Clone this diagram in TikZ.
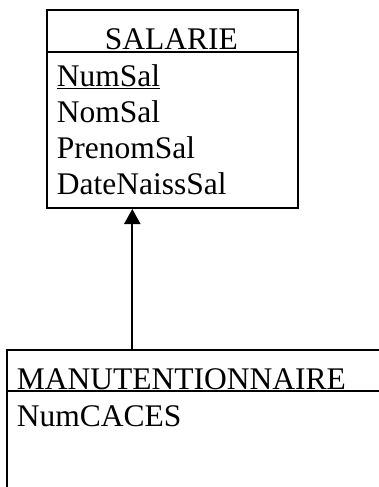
\documentclass[tikz,border=0pt]{standalone}
\usepackage{fontspec}
\setmainfont{Liberation Serif}
\usetikzlibrary{arrows.meta}
\begin{document}
\begin{tikzpicture}[x=1pt,y=-1pt,
  box/.style={draw, line width=2pt, inner sep=0pt, anchor=north west},
  sep/.style={line width=2pt},
  txt/.style={anchor=base west, inner sep=0pt, font=\fontsize{31.5}{36}\selectfont},
  ttl/.style={anchor=base, inner sep=0pt, font=\fontsize{31.5}{36}\selectfont},
  conn/.style={line width=2.2pt, -{Triangle[width=16pt,length=15pt]}}]
\useasboundingbox (0,0) rectangle (379,487);
\clip (0,0) rectangle (379,487);
% SALARIE
\node[box, minimum width=250.7pt, minimum height=198pt] (salarie) at (46,9) {};
\coordinate (s1) at (0,52);
\draw[sep] (salarie.west |- s1) -- (salarie.east |- s1);
\node[ttl] (t1) at (171.35,49) {SALARIE};
\node[txt] (a1) at (56.7,86.5) {\underline{NumSal}};
\node[txt] (a2) at (56.7,122.5) {NomSal};
\node[txt] (a3) at (56.7,158.5) {PrenomSal};
\node[txt] (a4) at (56.7,194.5) {DateNaissSal};
% MANUTENTIONNAIRE
\node[box, minimum width=420pt, minimum height=220pt] (manu) at (6,349) {};
\coordinate (s2) at (0,391);
\draw[sep] (manu.west |- s2) -- (manu.east |- s2);
\node[txt] (t2) at (16.7,389.5) {MANUTENTIONNAIRE};
\node[txt] (b1) at (16.7,426) {NumCACES};
% inheritance arrow
\coordinate (ax) at (132.3,0);
\draw[conn] (manu.north -| ax) -- (salarie.south -| ax);
\end{tikzpicture}
\end{document}
